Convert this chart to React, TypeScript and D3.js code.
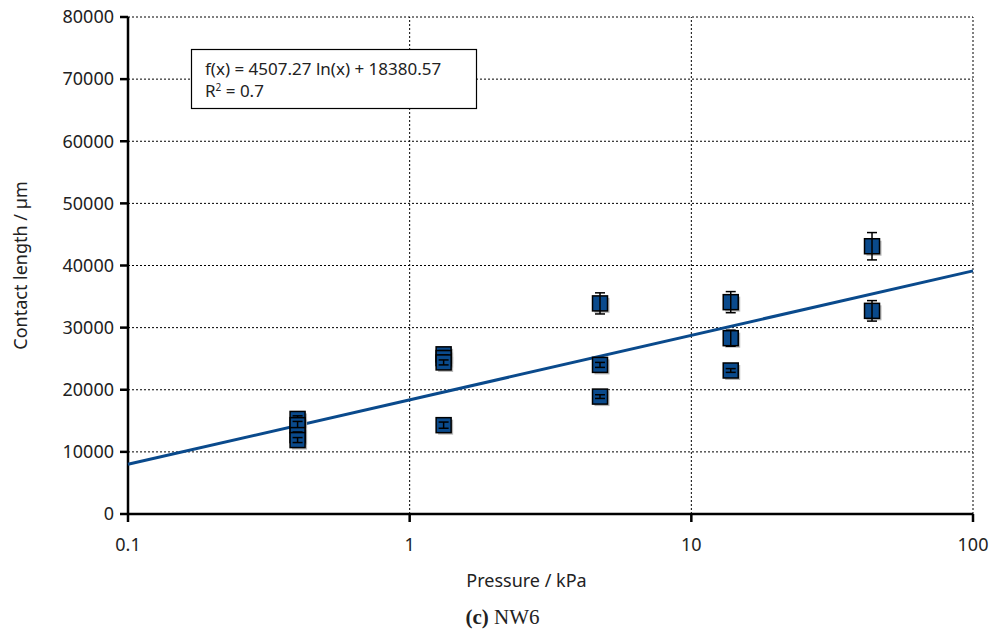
import * as d3 from "d3";

const pressure = [0.4, 0.4, 0.4, 0.4, 1.32, 1.32, 1.32, 1.32, 4.74, 4.74, 4.74, 13.8, 13.8, 13.8, 43.8, 43.8];
const contactLength = [15300, 14300, 12700, 11900, 25700, 25100, 24400, 14300, 33900, 24000, 18900, 34100, 28300, 23100, 43100, 32700];
const errors = [500, 600, 500, 400, 600, 500, 400, 500, 1700, 400, 300, 1700, 1300, 300, 2200, 1650];
const xTicks = [0.1, 1, 10, 100];
const yTicks = [0, 10000, 20000, 30000, 40000, 50000, 60000, 70000, 80000];
const fitA = 4507.27;
const fitB = 18380.57;

const W = 997;
const H = 635;
const margin = { left: 128, right: 24, top: 17, bottom: 121 };
const font = "'Noto Sans', sans-serif";
const blue = "#0a4a8c";

export default function App() {
  const x = d3.scaleLog().domain([0.1, 100]).range([margin.left, W - margin.right]);
  const y = d3.scaleLinear().domain([0, 80000]).range([H - margin.bottom, margin.top]);

  const fit = (p: number) => fitA * Math.log(p) + fitB;
  const line = d3
    .line<number>()
    .x((p) => x(p))
    .y((p) => y(fit(p)));

  const m = 7.5; // marker half size
  const cap = 5;

  return (
    <svg width={W} height={H} style={{ position: "absolute", left: 0, top: 0, background: "#fff" }}>
      {/* grid */}
      {yTicks.slice(1).map((t) => (
        <line key={"gy" + t} x1={x(0.1)} x2={x(100)} y1={y(t)} y2={y(t)} stroke="#000" strokeWidth={1} strokeDasharray="2,2" />
      ))}
      {xTicks.slice(1).map((t) => (
        <line key={"gx" + t} x1={x(t)} x2={x(t)} y1={y(0)} y2={y(80000)} stroke="#000" strokeWidth={1} strokeDasharray="2,2" />
      ))}

      {/* axes */}
      <line x1={x(0.1)} x2={x(100)} y1={y(0)} y2={y(0)} stroke="#000" strokeWidth={2.5} />
      <line x1={x(0.1)} x2={x(0.1)} y1={y(0)} y2={y(80000)} stroke="#000" strokeWidth={2.5} />
      {yTicks.map((t) => (
        <g key={"ty" + t}>
          <line x1={x(0.1) - 8} x2={x(0.1)} y1={y(t)} y2={y(t)} stroke="#000" strokeWidth={2.5} />
          <text x={x(0.1) - 14} y={y(t)} dy="0.35em" textAnchor="end" fontFamily={font} fontSize={18} fill="#222">
            {t}
          </text>
        </g>
      ))}
      {xTicks.map((t) => (
        <g key={"tx" + t}>
          <line x1={x(t)} x2={x(t)} y1={y(0)} y2={y(0) + 8} stroke="#000" strokeWidth={2.5} />
          <text x={x(t)} y={y(0) + 37} textAnchor="middle" fontFamily={font} fontSize={18} fill="#222">
            {t}
          </text>
        </g>
      ))}

      {/* fit line */}
      <path d={line(x.domain()) ?? ""} fill="none" stroke={blue} strokeWidth={3} />

      {/* points */}
      {pressure.map((p, i) => {
        const cx = x(p);
        const cy = y(contactLength[i]);
        return (
          <rect key={"s" + i} x={cx - m + 2} y={cy - m + 2} width={2 * m} height={2 * m} fill="#999" opacity={0.7} />
        );
      })}
      {pressure.map((p, i) => {
        const cx = x(p);
        const cy = y(contactLength[i]);
        const top = y(contactLength[i] + errors[i]);
        const bot = y(contactLength[i] - errors[i]);
        return (
          <g key={"p" + i}>
            <rect x={cx - m} y={cy - m} width={2 * m} height={2 * m} fill={blue} stroke="#000" strokeWidth={1.5} />
            <line x1={cx} x2={cx} y1={top} y2={bot} stroke="#000" strokeWidth={1.5} />
            <line x1={cx - cap} x2={cx + cap} y1={top} y2={top} stroke="#000" strokeWidth={1.5} />
            <line x1={cx - cap} x2={cx + cap} y1={bot} y2={bot} stroke="#000" strokeWidth={1.5} />
          </g>
        );
      })}

      {/* equation box */}
      <rect x={191.5} y={49.5} width={285} height={59} fill="#fff" stroke="#000" strokeWidth={1.2} />
      <text x={205} y={75} fontFamily={font} fontSize={17} fill="#222">
        f(x) = 4507.27 ln(x) + 18380.57
      </text>
      <text x={205} y={97} fontFamily={font} fontSize={17} fill="#222">
        R<tspan dy={-6} fontSize={10}>2</tspan>
        <tspan dy={6}> = 0.7</tspan>
      </text>

      {/* axis titles */}
      <text x={W / 2 + 28} y={587} textAnchor="middle" fontFamily={font} fontSize={18} fill="#222">
        Pressure / kPa
      </text>
      <text transform={`translate(27,${(y(0) + y(80000)) / 2}) rotate(-90)`} textAnchor="middle" fontFamily={font} fontSize={18} fill="#222">
        Contact length / µm
      </text>
      <text x={W / 2 + 4} y={624} textAnchor="middle" fontFamily="'Liberation Serif', serif" fontSize={21} fill="#222">
        <tspan fontWeight="bold">(c)</tspan> NW6
      </text>
    </svg>
  );
}
